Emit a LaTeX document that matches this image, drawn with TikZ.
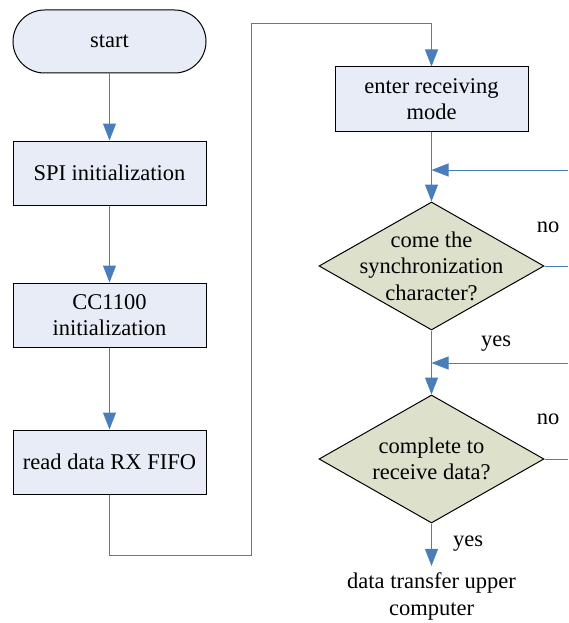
\documentclass[tikz,border=0pt]{standalone}
\usepackage{fontspec}
\setmainfont{Liberation Serif}
\usetikzlibrary{shapes.geometric,arrows.meta}
\definecolor{boxfill}{HTML}{E7ECF7}
\definecolor{diafill}{HTML}{DDE0CB}
\definecolor{flow}{HTML}{4A7EBB}
\begin{document}
\begin{tikzpicture}[x=1pt,y=-1pt,
  font=\fontsize{22.5}{26.5}\selectfont,
  box/.style={draw=black,fill=boxfill,line width=1pt,minimum width=193pt,minimum height=64pt,align=center,inner sep=0pt},
  term/.style={box,rounded corners=31.5pt,minimum height=63pt},
  dia/.style={diamond,draw=black,fill=diafill,line width=1pt,minimum width=225pt,minimum height=128pt,inner sep=0pt},
  flowline/.style={draw=flow,line width=1pt},
  arr/.style={flowline,-{Triangle[length=17pt,width=13pt]}},
  lbl/.style={inner sep=0pt}]
\useasboundingbox (0,0) rectangle (568,623);
% left column
\node[term] (start) at (109.5,41.5) {start};
\node[box] (spi) at (109.5,173) {SPI initialization};
\node[box] (cc) at (109.5,315) {CC1100\\initialization};
\node[box] (read) at (109.5,462) {read data RX FIFO};
% right column
\node[box] (enter) at (431.5,99) {enter receiving\\mode};
\node[dia,label={[align=center,inner sep=0pt]center:come the\\synchronization\\character?}] (d1) at (431.5,266) {};
\node[dia,label={[align=center,inner sep=0pt]center:complete to\\receive data?}] (d2) at (431.5,459) {};
\node[lbl,align=center,anchor=base] (out) at (431.5,615) {data transfer upper\\computer};
% labels
\node[lbl,anchor=base] (no1) at (548,232) {no};
\node[lbl,anchor=base] (yes1) at (496,346) {yes};
\node[lbl,anchor=base] (no2) at (548,424) {no};
\node[lbl,anchor=base] (yes2) at (468,546) {yes};
% coordinates
\coordinate (c1) at (109.5,555);
\coordinate (c2) at (251,555);
\coordinate (c3) at (251,24);
\coordinate (c4) at (431.5,24);
\coordinate (r1) at (568,170);
\coordinate (j1) at (431.5,170);
\coordinate (r2) at (568,266);
\coordinate (r3) at (568,363);
\coordinate (j2) at (431.5,363);
\coordinate (r4) at (568,459);
% connectors
\draw[arr] (start) -- (spi);
\draw[arr] (spi) -- (cc);
\draw[arr] (cc) -- (read);
\draw[arr] (read.south) -- (c1) -- (c2) -- (c3) -- (c4) -- (enter.north);
\draw[arr] (enter) -- (d1);
\draw[arr] (r1) -- (j1);
\draw[flowline] (d1.east) -- (r2);
\draw[arr] (d1) -- (d2);
\draw[arr] (r3) -- (j2);
\draw[flowline] (d2.east) -- (r4);
\draw[arr,shorten >=6.5pt] (d2.south) -- (out.north);
\end{tikzpicture}
\end{document}
